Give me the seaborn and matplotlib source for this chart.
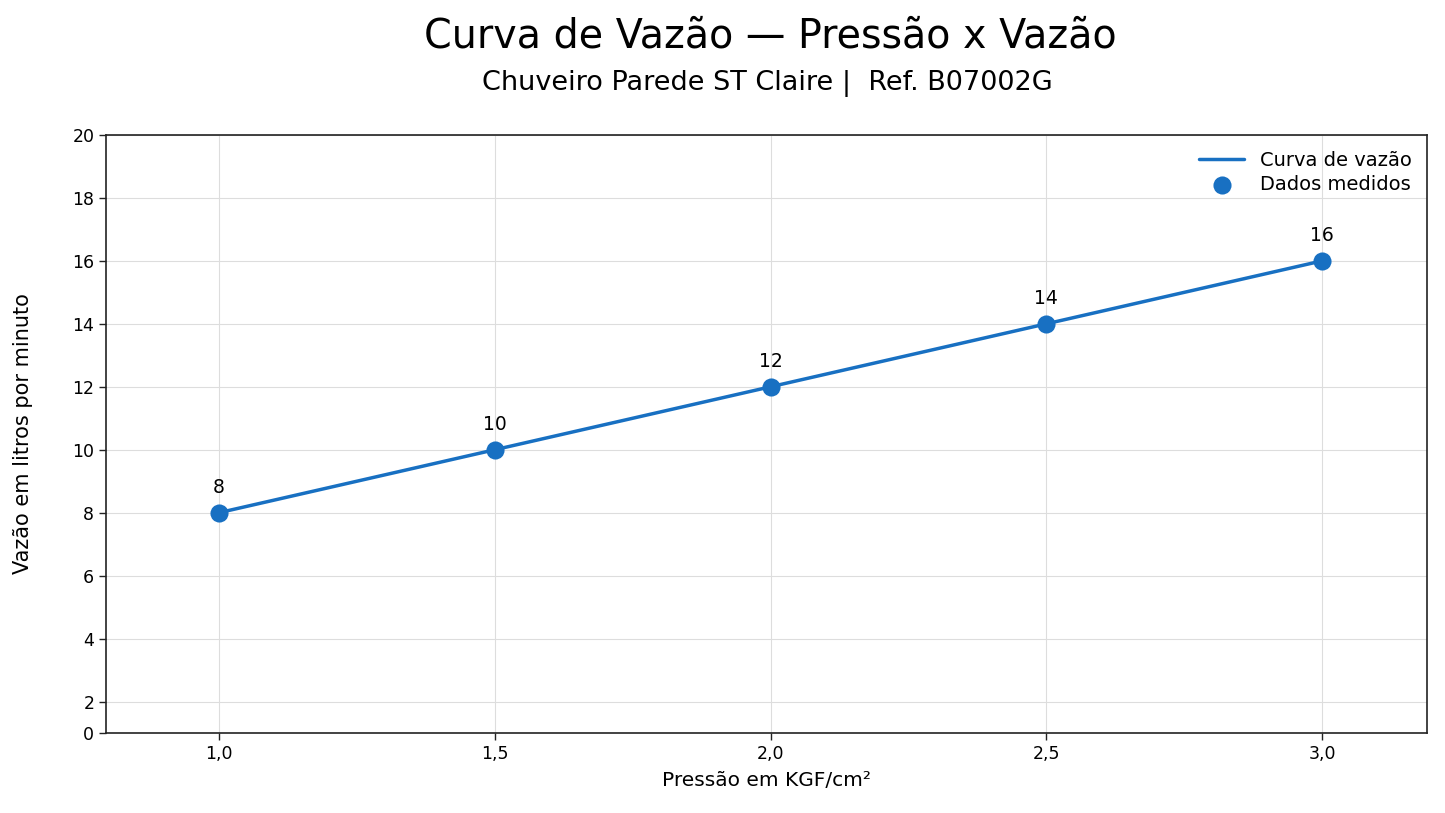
import pandas as pd
import seaborn as sns
import matplotlib.pyplot as plt

# data
pressao = [1.0, 1.5, 2.0, 2.5, 3.0]
vazao = [8, 10, 12, 14, 16]
x_ticks = [1.0, 1.5, 2.0, 2.5, 3.0]
x_labels = ["1,0", "1,5", "2,0", "2,5", "3,0"]
y_ticks = [1, 2, 4, 6, 8, 10, 12, 14, 16, 18, 20]
y_labels = ["0", "2", "4", "6", "8", "10", "12", "14", "16", "18", "20"]

df = pd.DataFrame({"Pressao": pressao, "Vazao": vazao})
cor = "#1870c2"

sns.set_style("white")
plt.rcParams['font.family'] = ['DejaVu Sans']
plt.rcParams['text.color'] = 'black'
plt.rcParams['axes.labelcolor'] = 'black'
plt.rcParams['xtick.color'] = 'black'
plt.rcParams['ytick.color'] = 'black'

fig = plt.figure(figsize=(14.45, 8.13), dpi=100)
ax = fig.add_axes([0.0734, 0.0984, 0.9141, 0.7356])

sns.lineplot(data=df, x="Pressao", y="Vazao", color=cor, linewidth=2.5,
             label="Curva de vazão", ax=ax)
sns.scatterplot(data=df, x="Pressao", y="Vazao", color=cor, s=170,
                edgecolor=cor, linewidth=0, label="Dados medidos", ax=ax, zorder=3)

# value labels above the points
for x, y in zip(pressao, vazao):
    ax.annotate(str(y), (x, y), textcoords="offset points", xytext=(0, 14),
                ha="center", fontsize=13.5)

ax.set_xlim(0.795, 3.19)
ax.set_ylim(1, 20)
ax.set_xticks(x_ticks)
ax.set_xticklabels(x_labels, fontsize=12.5)
ax.set_yticks(y_ticks)
ax.set_yticklabels(y_labels, fontsize=12.5)
ax.tick_params(axis="both", length=5, width=1, color="#222222", direction="out",
               bottom=True, left=True)
ax.grid(True, color="#dddddd", linewidth=0.8)
for s in ax.spines.values():
    s.set_color("#222222")
    s.set_linewidth(1.2)

ax.set_xlabel("Pressão em KGF/cm²", fontsize=14.5, labelpad=6)
ax.set_ylabel("Vazão em litros por minuto", fontsize=15, labelpad=28)

ax.legend(loc="upper right", frameon=False, fontsize=14, markerscale=1.0,
          handlelength=2.3, handletextpad=0.8, labelspacing=0.3,
          borderaxespad=0.4)

fig.text(0.533, 0.955, "Curva de Vazão — Pressão x Vazão", ha="center",
         va="center", fontsize=28.5)
fig.text(0.531, 0.897, "Chuveiro Parede ST Claire |  Ref. B07002G", ha="center",
         va="center", fontsize=19.5)

fig.savefig("out.png", dpi=100)
